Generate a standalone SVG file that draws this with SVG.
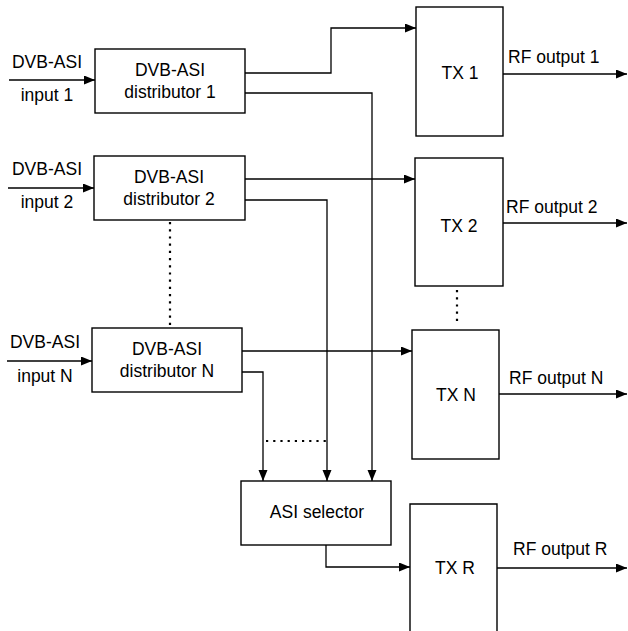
<svg xmlns="http://www.w3.org/2000/svg" width="628" height="631" viewBox="0 0 628 631">
<style>
.box{fill:#fff;stroke:#000;stroke-width:1.4}
.ln{fill:none;stroke:#000;stroke-width:1.3}
.dot{fill:none;stroke:#000;stroke-width:2.2;stroke-dasharray:2.2 5}
text{font-family:"Liberation Sans",Arial,sans-serif;font-size:17.5px;fill:#000}
.c{text-anchor:middle}
</style>
<defs>
<marker id="ah" markerUnits="userSpaceOnUse" markerWidth="12" markerHeight="10" refX="11" refY="4.5" orient="auto">
<path d="M0,0 L11,4.5 L0,9 z" fill="#000"/>
</marker>
</defs>
<rect width="628" height="631" fill="#fff"/>
<g id="connectors">
<line class="ln" x1="9" y1="80" x2="95" y2="80" marker-end="url(#ah)"/>
<line class="ln" x1="8" y1="188" x2="94" y2="188" marker-end="url(#ah)"/>
<line class="ln" x1="7" y1="361" x2="92" y2="361" marker-end="url(#ah)"/>
<polyline class="ln" points="245,73 331,73 331,28 416,28" marker-end="url(#ah)"/>
<polyline class="ln" points="245,93 372,93 372,481" marker-end="url(#ah)"/>
<line class="ln" x1="245" y1="179" x2="415" y2="179" marker-end="url(#ah)"/>
<polyline class="ln" points="245,200 327,200 327,481" marker-end="url(#ah)"/>
<line class="ln" x1="242" y1="351" x2="412" y2="351" marker-end="url(#ah)"/>
<polyline class="ln" points="242,372 263,372 263,481" marker-end="url(#ah)"/>
<polyline class="ln" points="326,545 326,567 410,567" marker-end="url(#ah)"/>
<line class="ln" x1="503" y1="74" x2="627" y2="74" marker-end="url(#ah)"/>
<line class="ln" x1="503" y1="223" x2="627" y2="223" marker-end="url(#ah)"/>
<line class="ln" x1="499" y1="394" x2="627" y2="394" marker-end="url(#ah)"/>
<line class="ln" x1="497" y1="568" x2="627" y2="568" marker-end="url(#ah)"/>
<line class="dot" x1="170" y1="222" x2="170" y2="326"/>
<line class="dot" x1="457" y1="290" x2="457" y2="326"/>
<line class="dot" x1="266" y1="441" x2="326" y2="441"/>
</g>
<g id="labels">
<text x="47" y="68" class="c">DVB-ASI</text>
<text x="47" y="101" class="c">input 1</text>
<text x="47" y="175" class="c">DVB-ASI</text>
<text x="47" y="208" class="c">input 2</text>
<text x="45" y="348" class="c">DVB-ASI</text>
<text x="45" y="382" class="c">input N</text>
<text x="508" y="63">RF output 1</text>
<text x="506" y="213">RF output 2</text>
<text x="509" y="384">RF output N</text>
<text x="513" y="555">RF output R</text>
</g>
<g id="dist1">
<rect class="box" x="95" y="49" width="150" height="64"/>
<text x="170" y="76" class="c">DVB-ASI</text>
<text x="170" y="98" class="c">distributor 1</text>
</g>
<g id="dist2">
<rect class="box" x="94" y="156" width="151" height="64"/>
<text x="169" y="183" class="c">DVB-ASI</text>
<text x="169" y="205" class="c">distributor 2</text>
</g>
<g id="distN">
<rect class="box" x="92" y="328" width="150" height="64"/>
<text x="167" y="355" class="c">DVB-ASI</text>
<text x="167" y="377" class="c">distributor N</text>
</g>
<g id="tx1">
<rect class="box" x="416" y="7" width="87" height="129"/>
<text x="460" y="79" class="c">TX 1</text>
</g>
<g id="tx2">
<rect class="box" x="415" y="158" width="88" height="128"/>
<text x="459" y="232" class="c">TX 2</text>
</g>
<g id="txN">
<rect class="box" x="412" y="330" width="87" height="129"/>
<text x="456" y="401" class="c">TX N</text>
</g>
<g id="selector">
<rect class="box" x="241" y="481" width="150" height="64"/>
<text x="317" y="518" class="c">ASI selector</text>
</g>
<g id="txR">
<path class="box" d="M410,640 L410,504 L497,504 L497,640"/>
<text x="455" y="574" class="c">TX R</text>
</g>
</svg>
